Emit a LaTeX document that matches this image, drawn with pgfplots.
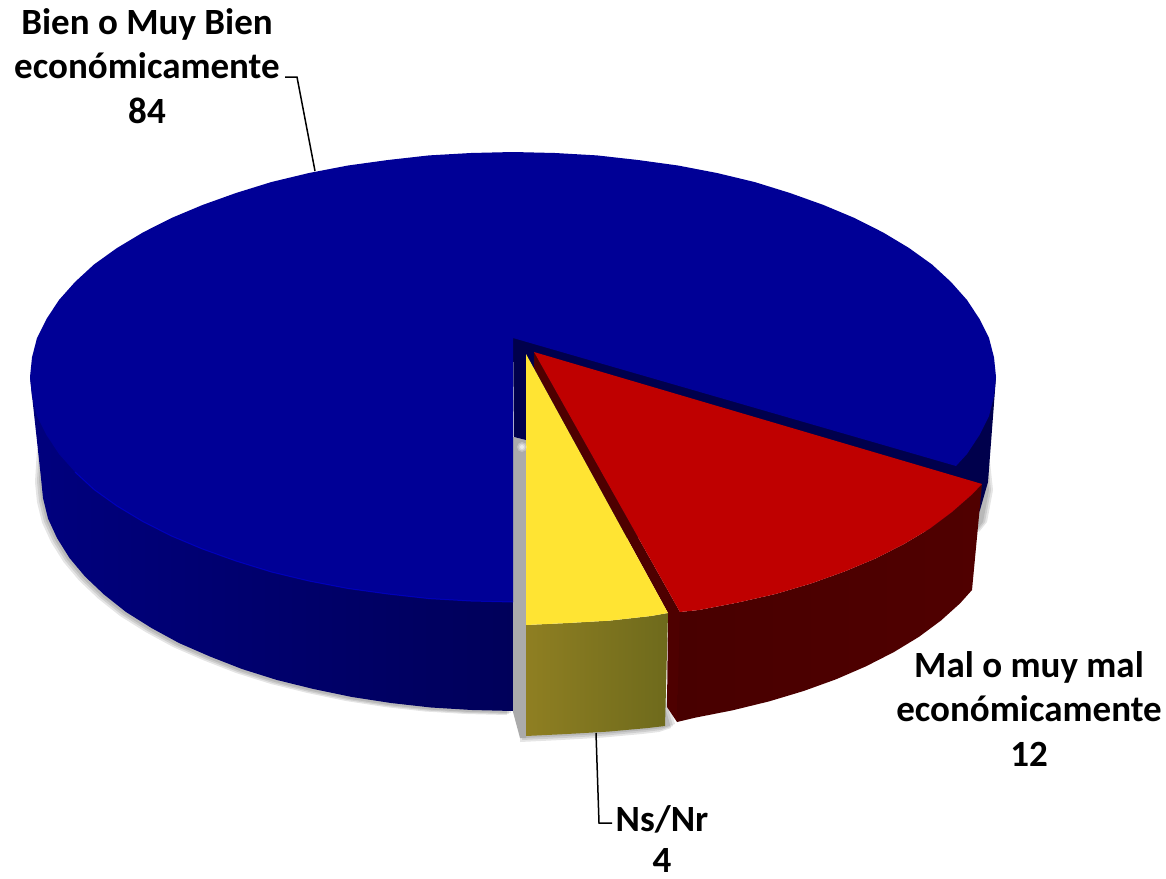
\documentclass[border=0pt]{standalone}
\usepackage{pgfplots}
\usepackage{pgfplotstable}
\usepackage{fontspec}
\setmainfont{Carlito}
\pgfplotsset{compat=1.18}
\definecolor{bluetop}{HTML}{000096}
\definecolor{bluewallL}{HTML}{00007E}
\definecolor{bluewallR}{HTML}{00005A}
\definecolor{bluedark}{HTML}{00004C}
\definecolor{redtop}{HTML}{BF0000}
\definecolor{redwallL}{HTML}{480000}
\definecolor{redwallR}{HTML}{500000}
\definecolor{redband}{HTML}{4E0000}
\definecolor{yeltop}{HTML}{FFE433}
\definecolor{yelwallL}{HTML}{8F7F22}
\definecolor{yelwallR}{HTML}{6E6A1C}
\definecolor{gapgrey}{HTML}{ABABAB}
\pgfplotstableread{
x y
513 338
513 602
471 601
429 598.6
388 594
348 588.5
309 581
271.5 572
236 561
202.5 549
171.5 536
143 521.6
117 506
94 489.5
75 472
59 454
46.5 435
37 416
32 396.6
30 377
32 357.4
37 338
46.5 319
59 300
75 282
94 264.5
117 248
143 232.4
171.5 218
202.5 205
236 193
271.5 182
309 173
348 165.5
388 160
429 155.4
471 153
513 152
555 153
597 155.4
638 160
678 165.5
717 173
754.5 182
790 193
823.5 205
854.5 218
883 232.4
909 248
932 264.5
951 282
967 300
979.5 319
989 338
994 357.4
996 377
994 396.6
989 416
979.5 435
967 454
956 466
}\bluetoptbl
\pgfplotstableread{
x y
513 602
471 601
429 598.6
388 594
348 588.5
309 581
271.5 572
236 561
202.5 549
171.5 536
143 521.6
117 506
94 489.5
75 472
}\bluerim
\pgfplotstableread{
x y
513 400
513 711
472 710
431 707.5
391 703
352 697
313.5 689
277 680
242 669
210 656.5
179 643
151.5 628
126 612
104 594.5
85 576.5
69.5 558
57 538
48 518.5
43 498
41 478
30 377
}\bluewall
\pgfplotstableread{
x y
513 500
513 711
472 710
431 707.5
391 703
352 697
313.5 689
277 680
242 669
210 656.5
179 643
151.5 628
126 612
104 594.5
85 576.5
69.5 558
57 538
48 518.5
43 498
41 478
43 445
}\blueshadow
\pgfplotstableread{
x y
513 338
996 377
988 482
980 510
970 530
526 540
526 440
514 437
}\bluedarktbl
\pgfplotstableread{
x y
513 437
526 440
526 738
520 738
513 712
}\gaptbl
\pgfplotstableread{
x y
985 462
988 490
982 522
974 532
960 500
}\rightshadow
\pgfplotstableread{
x y
534 352
982 484
972 494.5
952 512
930 528.5
904 544
875.5 558.5
844.5 571.5
811 583.5
775.5 594
738 602.5
699 610
680 612
}\redtoptbl
\pgfplotstableread{
x y
982 484
972 494.5
952 512
930 528.5
904 544
875.5 558.5
844.5 571.5
811 583.5
775.5 594
738 602.5
699 610
680 612
677 722
695 717.7
732.6 710.3
769 701.4
803.6 691
836 679.3
866 666.3
894 652
919 636.8
941 620.5
960 603.4
972 590
}\redwall
\pgfplotstableread{
x y
534 352
680 612
690 640
685 716
677 722
667 707
668 613
534 368
}\redbandtbl
\pgfplotstableread{
x y
526 354
668 613
651 616
610 620.6
568 623
526 625
}\yeltoptbl
\pgfplotstableread{
x y
526 625
568 623
610 620.6
651 616
668 613
665 726
648 728
608 731.6
567 734
526 736
}\yelwall
\pgfplotstableread{
x y
526 690
526 736
567 734
608 731.6
648 728
665 726
677 722
668 690
}\yelshadow
\begin{document}
\begin{tikzpicture}[x=1pt,y=1pt]
\path[use as bounding box] (0,0) rectangle (1166pt,878pt);
\begin{axis}[
  at={(0pt,0pt)}, anchor=south west,
  width=1166pt, height=878pt, scale only axis,
  xmin=0, xmax=1166, ymin=0, ymax=878, y dir=reverse,
  hide axis, clip=false,
]
% soft shadows
\addplot[fill=black, draw=none, opacity=.10, xshift=-2pt, yshift=-2pt] table {\blueshadow};
\addplot[fill=black, draw=none, opacity=.10, xshift=-4pt, yshift=-3pt] table {\blueshadow};
\addplot[fill=black, draw=none, opacity=.10, xshift=-6pt, yshift=-4pt] table {\blueshadow};
\addplot[fill=black, draw=none, opacity=.10, xshift=-2pt, yshift=-2pt] table {\yelshadow};
\addplot[fill=black, draw=none, opacity=.10, xshift=-4pt, yshift=-4pt] table {\yelshadow};
\addplot[fill=black, draw=none, opacity=.10, xshift=-6pt, yshift=-6pt] table {\yelshadow};
\addplot[fill=black, draw=none, opacity=.10, xshift=1pt] table {\rightshadow};
\addplot[fill=black, draw=none, opacity=.10, xshift=3pt] table {\rightshadow};
\addplot[fill=black, draw=none, opacity=.10, xshift=5pt] table {\rightshadow};
% blue body
\addplot[draw=none, left color=bluewallL, right color=bluewallR] table {\bluewall};
\addplot[fill=gapgrey, draw=none] table {\gaptbl};
\addplot[only marks, mark=*, mark size=5pt, mark options={draw opacity=0, fill=white, fill opacity=.25}] coordinates {(522,447)};
\addplot[only marks, mark=*, mark size=3.5pt, mark options={draw opacity=0, fill=white, fill opacity=.35}] coordinates {(522,447)};
\addplot[only marks, mark=*, mark size=2pt, mark options={draw opacity=0, fill=white, fill opacity=.5}] coordinates {(522,447)};
\addplot[fill=bluedark, draw=none] table {\bluedarktbl};
\addplot[fill=bluetop, draw=none] table {\bluetoptbl};
\addplot[draw=blue!70!bluetop, opacity=.6, line width=1pt] table {\bluerim};
% red slice
\addplot[fill=redband, draw=none] table {\redbandtbl};
\addplot[draw=none, left color=redwallL, right color=redwallR] table {\redwall};
\addplot[fill=redtop, draw=none] table {\redtoptbl};
% yellow slice
\addplot[draw=none, left color=yelwallL, right color=yelwallR] table {\yelwall};
\addplot[fill=yeltop, draw=none] table {\yeltoptbl};
% leaders
\addplot[black, line width=1.5pt] coordinates {(285,77) (297,77) (315,171)};
\addplot[black, line width=1.5pt] coordinates {(596,733) (599,823) (612,823)};
% labels
\node[align=center, font=\fontsize{37}{44.5}\selectfont\bfseries] at (axis cs:147,66) {Bien o Muy Bien\\económicamente\\84};
\node[align=center, font=\fontsize{37}{44.5}\selectfont\bfseries] at (axis cs:1029,709) {Mal o muy mal\\económicamente\\12};
\node[align=center, font=\fontsize{37}{44.5}\selectfont\bfseries] at (axis cs:662,819) {Ns/Nr};
\node[align=center, font=\fontsize{37}{44.5}\selectfont\bfseries] at (axis cs:662,860) {4};
\end{axis}
\end{tikzpicture}
\end{document}
